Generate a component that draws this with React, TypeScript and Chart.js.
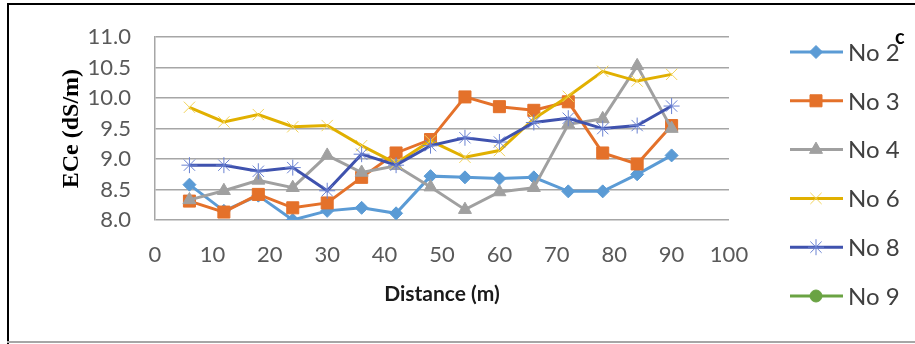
import React, { useEffect, useRef } from 'react';
import { Chart, registerables } from 'chart.js';
import { drawPoint } from 'chart.js/helpers';

Chart.register(...registerables);

const distances = [6, 12, 18, 24, 30, 36, 42, 48, 54, 60, 66, 72, 78, 84, 90];
const no2 = [8.58, 8.15, 8.4, 8.0, 8.15, 8.2, 8.11, 8.72, 8.7, 8.68, 8.7, 8.47, 8.47, 8.75, 9.06];
const no3 = [8.31, 8.13, 8.42, 8.2, 8.28, 8.7, 9.1, 9.32, 10.02, 9.86, 9.8, 9.94, 9.1, 8.92, 9.55];
const no4 = [8.33, 8.48, 8.65, 8.53, 9.06, 8.78, 8.89, 8.54, 8.17, 8.46, 8.53, 9.57, 9.66, 10.53, 9.5];
const no6 = [9.85, 9.61, 9.73, 9.53, 9.55, 9.22, 8.93, 9.3, 9.03, 9.14, 9.66, 10.03, 10.44, 10.28, 10.39];
const no8 = [8.9, 8.9, 8.8, 8.86, 8.48, 9.08, 8.9, 9.22, 9.35, 9.28, 9.6, 9.67, 9.5, 9.55, 9.87];
const no9: number[] = [];

const seriesNames = ['No 2', 'No 3', 'No 4', 'No 6', 'No 8', 'No 9'];
const seriesValues = [no2, no3, no4, no6, no8, no9];
const seriesColors = ['#5B9BD5', '#E4712A', '#A0A0A0', '#E1B000', '#3F52AE', '#6AA343'];
const markerColors = ['#5B9BD5', '#E4712A', '#A0A0A0', '#F2D35A', '#6A82D2', '#6AA343'];
const markerStyles = ['rectRot', 'rect', 'triangle', 'crossRot', 'star', 'circle'];
const markerSizes = [6.5, 8.5, 7.5, 8, 8, 6];
const markerBorders = [1, 1, 1, 1, 1, 1];

const yTicks = { min: 8, max: 11, step: 0.5 };
const xTicks = { min: 0, max: 100, step: 10 };

const legendPlugin = {
  id: 'customLegend',
  afterDraw(chart: any) {
    const ctx = chart.ctx as CanvasRenderingContext2D;
    ctx.save();
    chart.data.datasets.forEach((ds: any, i: number) => {
      const y = 52 + i * 48.8;
      ctx.strokeStyle = ds.borderColor;
      ctx.lineWidth = 3;
      ctx.beginPath();
      ctx.moveTo(790, y);
      ctx.lineTo(843, y);
      ctx.stroke();
      ctx.fillStyle = ds.pointBackgroundColor;
      ctx.strokeStyle = ds.pointBorderColor;
      ctx.lineWidth = ds.pointBorderWidth;
      drawPoint(ctx, { pointStyle: ds.pointStyle, radius: ds.pointRadius, rotation: 0, borderWidth: ds.pointBorderWidth } as any, 816, y);
      ctx.fillStyle = '#404040';
      ctx.font = '24px Lato';
      ctx.textBaseline = 'middle';
      ctx.textAlign = 'left';
      ctx.fillText(ds.label, 848, y + 1);
    });
    ctx.fillStyle = '#000000';
    ctx.font = 'bold 20px Lato';
    ctx.textBaseline = 'middle';
    ctx.fillText('c', 895, 38);
    // frame
    ctx.fillStyle = '#000000';
    ctx.fillRect(7, 3, 915, 2);
    ctx.fillRect(7, 3, 2, 344);
    ctx.fillStyle = '#A6A6A6';
    ctx.fillRect(7, 341, 915, 2);
    ctx.restore();
  },
};

export default function App() {
  const ref = useRef<HTMLCanvasElement>(null);
  useEffect(() => {
    if (!ref.current) return;
    const datasets = seriesNames.map((name, i) => ({
      label: name,
      data: seriesValues[i].map((v, j) => ({ x: distances[j], y: v })),
      borderColor: seriesColors[i],
      backgroundColor: seriesColors[i],
      borderWidth: 3,
      pointStyle: markerStyles[i],
      pointRadius: markerSizes[i],
      pointBackgroundColor: markerColors[i],
      pointBorderColor: markerColors[i],
      pointBorderWidth: markerBorders[i],
      tension: 0,
      showLine: true,
      order: seriesNames.length - i,
    }));
    const chart = new Chart(ref.current, {
      type: 'scatter',
      data: { datasets },
      plugins: [legendPlugin],
      options: {
        animation: false,
        responsive: false,
        layout: { padding: { left: 8, top: 30, right: 186, bottom: 0 } },
        plugins: { legend: { display: false }, tooltip: { enabled: false } },
        scales: {
          x: {
            type: 'linear',
            min: xTicks.min,
            max: xTicks.max,
            grid: { display: false, drawTicks: false },
            border: { display: false },
            ticks: { stepSize: xTicks.step, padding: 22, color: '#595959', font: { family: 'Lato', size: 22 } },
            title: { display: true, text: 'Distance (m)', color: '#1a1a1a', font: { family: 'Lato', size: 21, weight: 'bold' }, padding: { top: 0, bottom: 37 } },
            afterFit: (s: any) => { s.height = 124; },
          },
          y: {
            min: yTicks.min,
            max: yTicks.max,
            grid: { color: '#A6A6A6', lineWidth: 1.5, drawTicks: false },
            border: { display: true, color: '#A6A6A6', width: 1.5 },
            ticks: { stepSize: yTicks.step, padding: 24, color: '#595959', font: { family: 'Lato', size: 22 }, callback: (v: any) => Number(v).toFixed(1) },
            title: { display: true, text: 'ECe (dS/m)', color: '#000000', font: { family: 'Liberation Serif', size: 24, weight: 'bold' }, padding: { top: 49, bottom: 0 } },
            afterFit: (s: any) => { s.width = 147; },
          },
        },
      },
    } as any);
    return () => chart.destroy();
  }, []);
  return (
    <div style={{ position: 'absolute', left: 0, top: 0, width: 915, height: 344, background: '#fff' }}>
      <canvas ref={ref} width={915} height={344} style={{ width: 915, height: 344, display: 'block' }} />
    </div>
  );
}
